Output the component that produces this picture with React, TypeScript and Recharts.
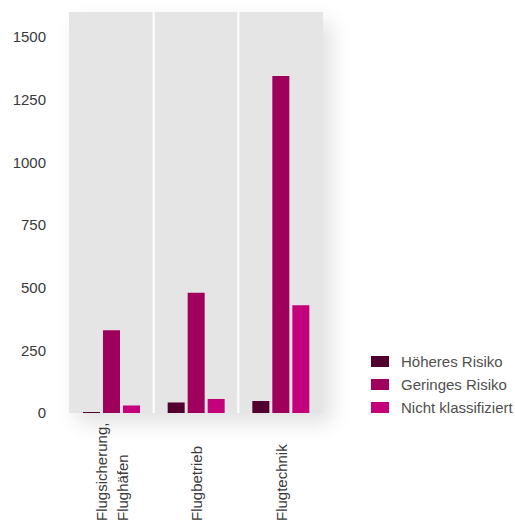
import { Bar, BarChart, CartesianGrid, Legend, XAxis, YAxis } from "recharts";

const categories = ["Flugsicherung,\nFlughäfen", "Flugbetrieb", "Flugtechnik"];
const hoeheresRisiko = [4, 42, 48];
const geringesRisiko = [330, 480, 1345];
const nichtKlassifiziert = [30, 56, 430];
const yTicks = [0, 250, 500, 750, 1000, 1250, 1500];

const series = [
  { key: "hoeheres", name: "Höheres Risiko", color: "#52002e" },
  { key: "geringes", name: "Geringes Risiko", color: "#9e005c" },
  { key: "nicht", name: "Nicht klassifiziert", color: "#c5007b" },
];

const data = categories.map((label, i) => ({
  label,
  hoeheres: hoeheresRisiko[i],
  geringes: geringesRisiko[i],
  nicht: nichtKlassifiziert[i],
}));

const FONT = '"Liberation Sans", Arial, Helvetica, sans-serif';

// rotated labels, each line starting from the bottom of the axis area
function CategoryTick({ x, y, payload }: any) {
  const lines = String(payload.value).split("\n");
  const mid = (lines.length - 1) / 2;
  return (
    <g transform={`translate(${x},${y})`}>
      <text transform="rotate(-90)" textAnchor="start" fontSize={15} fill="#3a3a3a" fontFamily={FONT}>
        {lines.map((line, i) => (
          <tspan key={line} x={-108} y={(i - mid) * 21 + 6}>
            {line}
          </tspan>
        ))}
      </text>
    </g>
  );
}

function RiskLegend() {
  return (
    <div style={{ fontFamily: FONT, fontSize: 15, color: "#505050" }}>
      {series.map((s) => (
        <div key={s.key} style={{ display: "flex", alignItems: "center", height: 23 }}>
          <span style={{ width: 18, height: 11, background: s.color, marginRight: 12 }} />
          <span>{s.name}</span>
        </div>
      ))}
    </div>
  );
}

export default function App() {
  return (
    <div style={{ position: "absolute", left: 0, top: 0, width: 515, height: 526, background: "#fff" }}>
      {/* soft shadow under the plot panel */}
      <div
        style={{
          position: "absolute",
          left: 69,
          top: 12,
          width: 254,
          height: 401,
          background: "#e5e5e5",
          boxShadow: "8px 10px 20px rgba(0,0,0,0.12)",
        }}
      />
      <BarChart
        width={515}
        height={526}
        data={data}
        margin={{ top: 12, right: 192, bottom: 3, left: 9 }}
        barSize={17}
        barGap={3}
      >
        <CartesianGrid
          horizontal={false}
          fill="#e5e5e5"
          stroke="#ffffff"
          strokeWidth={2}
          verticalCoordinatesGenerator={({ offset }: any) => [
            offset.left + offset.width / 3,
            offset.left + (offset.width * 2) / 3,
          ]}
        />
        <XAxis
          dataKey="label"
          height={110}
          axisLine={false}
          tickLine={false}
          tickSize={0}
          tickMargin={0}
          interval={0}
          tick={<CategoryTick />}
        />
        <YAxis
          width={60}
          domain={[0, 1600]}
          ticks={yTicks}
          axisLine={false}
          tickLine={false}
          tickSize={0}
          tickMargin={23}
          tick={{ fontSize: 15, fill: "#3a3a3a", fontFamily: FONT }}
        />
        <Legend
          align="center"
          verticalAlign="middle"
          content={<RiskLegend />}
          wrapperStyle={{ left: 371, top: 350, width: "auto", height: "auto" }}
        />
        {series.map((s) => (
          <Bar key={s.key} dataKey={s.key} name={s.name} fill={s.color} isAnimationActive={false} />
        ))}
      </BarChart>
    </div>
  );
}
